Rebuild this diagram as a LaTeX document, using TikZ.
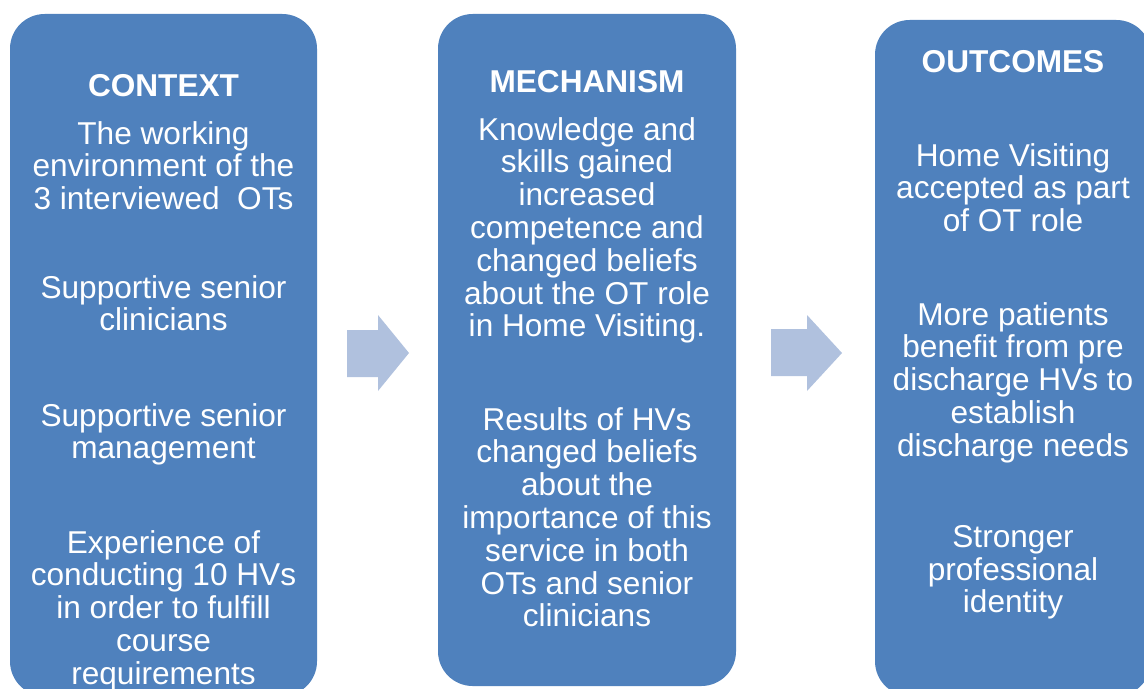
\documentclass[tikz,border=0pt]{standalone}
\usepackage{fontspec}
\setmainfont{Liberation Sans}
\definecolor{panelblue}{RGB}{79,129,189}
\definecolor{arrowblue}{RGB}{176,193,222}
\newcommand{\panelfont}{\fontsize{23.7pt}{24.6pt}\selectfont}

\begin{document}
\begin{tikzpicture}[x=0.75pt,y=-0.75pt,
  panel/.style={fill=panelblue,rounded corners=26pt},
  blockarrow/.style={fill=arrowblue},
  title/.style={font=\panelfont\bfseries,text=white,anchor=north,inner sep=0pt},
  body/.style={font=\panelfont,text=white,align=center,anchor=north,inner sep=0pt}]
\useasboundingbox (0,0) rectangle (1144,688);
\fill[panel] (10,14) rectangle (317,696);
\fill[panel] (438,14) rectangle (736,686);
\fill[panel] (875,20) rectangle (1151,696);
\fill[blockarrow] (347,330) -- (378,330) -- (378,315) -- (409,353) -- (378,391) -- (378,377) -- (347,377) -- cycle;
\fill[blockarrow] (771,329) -- (807,329) -- (807,315) -- (842,353) -- (807,391) -- (807,376) -- (771,376) -- cycle;
\node[title] (ctx) at (163.5,74) {CONTEXT};
\node[body] (ctx1) at (163.5,121) {The working\\environment of the\\3 interviewed~ OTs};
\node[body] (ctx2) at (163.5,275) {Supportive senior\\clinicians};
\node[body] (ctx3) at (163.5,403) {Supportive senior\\management};
\node[body] (ctx4) at (163.5,530) {Experience of\\conducting 10 HVs\\in order to fulfill\\course\\requirements};
\node[title] (mech) at (587,70) {MECHANISM};
\node[body] (mech1) at (587,117) {Knowledge and\\skills gained\\increased\\competence and\\changed beliefs\\about the OT role\\in Home Visiting.};
\node[body] (mech2) at (587,407) {Results of HVs\\changed beliefs\\about the\\importance of this\\service in both\\OTs and senior\\clinicians};
\node[title] (out) at (1013,50) {OUTCOMES};
\node[body] (out1) at (1013,143) {Home Visiting\\accepted as part\\of OT role};
\node[body] (out2) at (1013,302) {More patients\\benefit from pre\\discharge HVs to\\establish\\discharge needs};
\node[body] (out3) at (1013,525) {Stronger\\professional\\identity};
\end{tikzpicture}
\end{document}
